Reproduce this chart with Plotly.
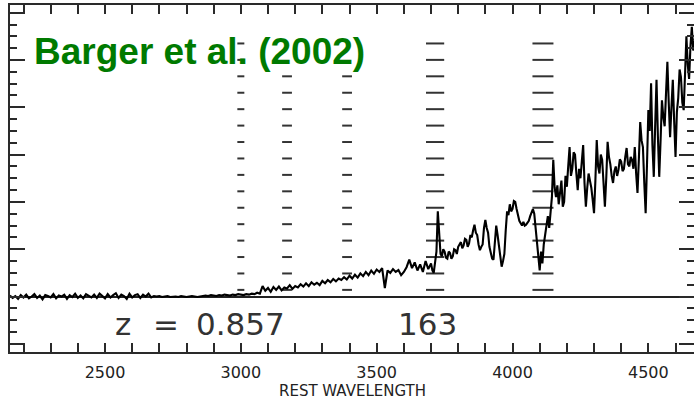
import numpy as np
import plotly.graph_objects as go

# ---------------- data ----------------
# blue part sampled every 10 A, red part every 5 A
wave_blue = np.arange(2150, 3700, 10)
wave_red = np.arange(3700, 4680, 5)

flux_uv_flat = [0.02, -0.03, 0.01, -0.05, 0.03, -0.02, 0.04, -0.04, 0.00, 0.05,
                -0.03, 0.02, -0.06, 0.03, 0.01, -0.02, 0.05, -0.04, 0.02, 0.00,
                0.04, -0.05, 0.03, -0.01, 0.06, -0.03, 0.02, -0.04, 0.05, 0.01,
                -0.02, 0.04, -0.03, 0.06, 0.00, -0.04, 0.05, -0.02, 0.03, 0.07,
                -0.03, 0.04, 0.01, -0.05, 0.06, -0.02, 0.03, 0.05, -0.03, 0.04,
                0.00, 0.06, -0.02]
flux_uv_quiet = [0.01, 0.00, 0.01, -0.01, 0.00, 0.01, -0.01, 0.00, 0.00, -0.01,
                 0.01, 0.00, -0.01, 0.00, 0.01, 0.00, -0.01, 0.00, 0.01, 0.02,
                 0.01, 0.03, 0.02, 0.01, 0.03, 0.02, 0.04, 0.03, 0.02, 0.04,
                 0.03, 0.05]
flux_rise = [0.04, 0.03, 0.05, 0.04, 0.06, 0.05, 0.08, 0.06, 0.22, 0.12,
             0.18, 0.10, 0.20, 0.14, 0.21, 0.13, 0.19, 0.17, 0.24, 0.16,
             0.22, 0.19, 0.26, 0.21, 0.28, 0.22, 0.30, 0.25, 0.29, 0.24,
             0.33, 0.28, 0.35, 0.30, 0.37, 0.32, 0.38, 0.35, 0.41, 0.36,
             0.44, 0.38, 0.46, 0.40, 0.49, 0.43, 0.52, 0.45, 0.55, 0.48,
             0.57, 0.52, 0.60, 0.18, 0.55, 0.50, 0.58, 0.52, 0.56, 0.45,
             0.52, 0.62, 0.78, 0.60, 0.72, 0.55, 0.68, 0.52, 0.75, 0.58]
flux_blue = flux_uv_flat + flux_uv_quiet + flux_rise

flux_red = [
    0.70, 0.55, 0.50, 0.75, 0.95, 1.80, 1.20, 0.90, 0.85, 1.00,
    0.95, 0.82, 0.80, 0.95, 0.92, 0.80, 0.85, 1.00, 0.98, 0.90,
    1.05, 1.12, 1.15, 1.02, 1.08, 1.22, 1.20, 1.05, 1.12, 1.30,
    1.25, 1.40, 1.52, 1.35, 1.30, 1.10, 0.98, 1.05, 1.10, 1.45,
    1.62, 1.45, 1.35, 1.05, 0.95, 0.80, 0.78, 1.20, 1.50, 1.30,
    1.10, 0.85, 0.63, 0.75, 0.90, 1.40, 1.80, 1.72, 1.95, 1.80,
    1.85, 2.02, 2.00, 1.85, 1.70, 1.60, 1.55, 1.50, 1.58, 1.50,
    1.52, 1.55, 1.60, 1.70, 1.80, 1.85, 1.75, 1.45, 1.20, 0.80,
    0.55, 0.95, 0.70, 1.10, 1.30, 1.60, 1.70, 1.45, 1.85, 2.10,
    2.89, 2.30, 2.10, 2.35, 1.95, 2.20, 2.45, 1.90, 2.00, 2.55,
    2.32, 2.75, 3.16, 2.55, 2.70, 3.05, 3.00, 2.60, 2.25, 2.70,
    2.50, 2.85, 3.20, 2.40, 1.90, 2.30, 2.60, 2.45, 2.30, 2.05,
    1.76, 2.45, 3.31, 2.75, 2.60, 3.00, 2.89, 2.40, 1.90, 2.50,
    3.27, 2.95, 2.80, 2.55, 2.40, 2.65, 2.75, 2.55, 2.68, 2.90,
    2.85, 2.65, 2.70, 2.95, 3.14, 2.80, 2.75, 2.95, 2.89, 2.70,
    3.16, 2.60, 2.19, 2.90, 3.69, 3.30, 3.16, 2.40, 1.76, 2.80,
    3.94, 3.50, 4.51, 3.20, 2.53, 3.60, 4.58, 3.40, 2.53, 3.30,
    4.15, 3.80, 3.60, 4.30, 4.96, 4.10, 3.37, 4.00, 4.58, 3.70,
    2.95, 3.90, 4.20, 4.80, 4.64, 4.10, 3.94, 4.70, 5.50, 4.90,
    4.60, 5.30, 5.70, 5.20, 5.40, 5.60]

wavelength = np.concatenate([wave_blue, wave_red])
flux = flux_blue + flux_red

# marker lines (rest wavelengths) and their top extent
line_waves = [3000, 3170, 3391, 3715, 4112]
line_tops = [5.35, 4.66, 4.66, 5.35, 5.35]
line_widths_px = [5, 7, 7, 13, 15]

x_ticks = [2500, 3000, 3500, 4000, 4500]
title_text = "Barger et al. (2002)"
redshift_label = ["z", "=", "0.857"]
object_id = "163"
x_title = "REST WAVELENGTH"

# ---------------- figure ----------------
W, H = 694, 401
ml, mr, mt, mb = 10, 0, 5, 49
x_range = [2150.3, 4668]
y_range = [-1.173, 6.163]
axis_col = "#2a2a2a"

fig = go.Figure()

# dashed marker columns
dash_y_all = np.linspace(0.14, 5.35, 16)
for lw, top, wpx in zip(line_waves, line_tops, line_widths_px):
    ys = dash_y_all[dash_y_all <= top + 1e-6]
    fig.add_trace(go.Scatter(
        x=[lw] * len(ys), y=ys, mode="markers",
        marker=dict(symbol="line-ew", size=wpx,
                    line=dict(width=2, color="#333333")),
        hoverinfo="skip", showlegend=False))

# spectrum
fig.add_trace(go.Scatter(
    x=wavelength, y=flux, mode="lines",
    line=dict(color="black", width=2.1, shape="linear"),
    showlegend=False))

# invisible trace for right axis
fig.add_trace(go.Scatter(x=[x_range[0]], y=[0], yaxis="y2", mode="markers",
                         marker=dict(opacity=0), showlegend=False, hoverinfo="skip"))

fig.update_layout(
    width=W, height=H,
    margin=dict(l=ml, r=mr, t=mt, b=mb),
    paper_bgcolor="white", plot_bgcolor="white",
    showlegend=False,
    xaxis=dict(
        range=x_range, tickvals=x_ticks, ticks="inside", ticklen=9,
        tickwidth=1.5, tickcolor=axis_col,
        showline=True, linecolor=axis_col, linewidth=2, mirror="allticks",
        showgrid=False, zeroline=False,
        minor=dict(dtick=100, tick0=2500, ticks="inside", ticklen=4,
                   tickwidth=1.5, tickcolor=axis_col, showgrid=False),
        tickfont=dict(family="DejaVu Sans", size=16, color="#222222"),
        ticklabelstandoff=5,
    ),
    yaxis=dict(
        range=y_range, dtick=1, tick0=0, ticks="inside", ticklen=15,
        tickwidth=1.5, tickcolor=axis_col,
        showline=True, linecolor=axis_col, linewidth=2, mirror=False,
        showgrid=False, showticklabels=False,
        zeroline=True, zerolinecolor="#222222", zerolinewidth=2,
        minor=dict(dtick=0.25, tick0=0, ticks="inside", ticklen=7,
                   tickwidth=1.5, tickcolor=axis_col, showgrid=False),
    ),
    yaxis2=dict(
        range=y_range, dtick=1, tick0=0, ticks="inside", ticklen=15,
        tickwidth=1.5, tickcolor=axis_col, overlaying="y", side="right",
        showline=False, showgrid=False, showticklabels=False, zeroline=False,
        minor=dict(dtick=0.25, tick0=0, ticks="inside", ticklen=7,
                   tickwidth=1.5, tickcolor=axis_col, showgrid=False),
    ),
)

pw = W - ml - mr
ph = H - mt - mb


def px_to_paper_x(px):
    return (px - ml) / pw


def px_to_paper_y(py):
    return (H - mb - py) / ph


fig.add_annotation(text=title_text, xref="paper", yref="paper",
                   x=px_to_paper_x(32), y=px_to_paper_y(51),
                   xanchor="left", yanchor="middle", showarrow=False,
                   font=dict(family="Liberation Sans", size=37, color="#007A00",
                             weight="bold"))

for txt, px in zip(redshift_label, [113, 151, 194]):
    fig.add_annotation(text=txt, xref="paper", yref="paper",
                       x=px_to_paper_x(px), y=px_to_paper_y(324),
                       xanchor="left", yanchor="middle", showarrow=False,
                       font=dict(family="DejaVu Sans", size=31, color="#333333"))
fig.add_annotation(text=object_id, xref="paper", yref="paper",
                   x=px_to_paper_x(396), y=px_to_paper_y(324),
                   xanchor="left", yanchor="middle", showarrow=False,
                   font=dict(family="DejaVu Sans", size=31, color="#333333"))

fig.add_annotation(text=x_title, xref="paper", yref="paper",
                   x=px_to_paper_x(352), y=px_to_paper_y(391),
                   xanchor="center", yanchor="middle", showarrow=False,
                   font=dict(family="DejaVu Sans", size=15, color="#222222"))

fig.write_html("out.html")
